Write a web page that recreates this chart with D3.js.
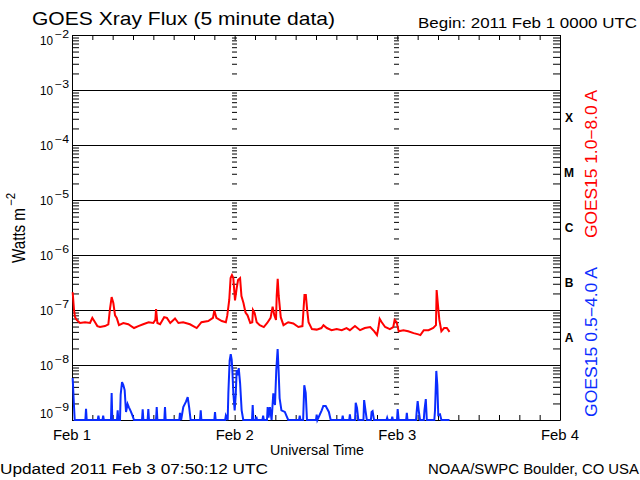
<!DOCTYPE html>
<html>
<head>
<meta charset="utf-8">
<script src="https://cdn.jsdelivr.net/npm/d3@7"></script>
<style>
  body { margin: 0; background: #fff; }
  text { font-family: "Liberation Sans", "DejaVu Sans", sans-serif; fill: #000; }
</style>
</head>
<body>
<div id="chart"></div>
<script>
const width = 640;
const height = 480;

// hours since 2011 Feb 1 00:00 UTC, flux in W m^-2
const redHours = [0.1,0.3,0.44,0.69,1.18,1.92,2.66,3.0,3.4,3.74,4.13,4.87,5.36,5.6,5.85,6.1,6.35,6.6,6.93,7.57,8.3,9.15,9.79,10.5,11.3,12.0,12.3,12.4,12.6,13.0,13.6,14.0,14.5,15.2,15.7,16.4,17.4,18.4,19.1,20.1,20.8,21.0,21.3,22.1,22.7,22.9,23.2,23.4,23.6,23.8,24.05,24.3,24.5,24.8,25.0,25.3,25.6,25.9,26.3,26.6,26.7,26.95,27.25,27.7,28.3,28.8,29.3,29.6,29.85,30.1,30.2,30.35,30.5,30.8,31.2,31.9,32.65,33.4,34.0,34.3,34.5,34.7,34.9,35.4,36.1,36.8,37.1,37.6,38.3,39.05,39.8,40.5,41.0,41.75,42.5,43.2,44.0,44.6,45.0,45.2,45.4,45.7,46.2,46.9,47.4,47.6,47.9,48.2,48.9,49.6,50.4,51.1,51.4,51.9,52.6,53.3,53.7,53.8,54.0,54.2,54.5,54.9,55.3,55.7];
const redFlux = [2.1e-7,1.0e-7,7.5e-8,6.6e-8,5.8e-8,6.0e-8,5.8e-8,7.2e-8,6.0e-8,5.1e-8,4.9e-8,5.1e-8,5.5e-8,1.04e-7,1.72e-7,1.34e-7,8e-8,7.2e-8,5.3e-8,5.8e-8,5.5e-8,4.7e-8,5.1e-8,5.5e-8,6.0e-8,5.8e-8,6.6e-8,1.04e-7,5.8e-8,5.5e-8,7.4e-8,7.2e-8,5.8e-8,7.0e-8,5.8e-8,6.0e-8,5.5e-8,4.7e-8,6.0e-8,6.3e-8,7.2e-8,9.8e-8,7.2e-8,6.3e-8,6.0e-8,7.8e-8,1.52e-7,3.8e-7,4.3e-7,3.8e-7,1.5e-7,2.5e-7,3.5e-7,3.8e-7,1.8e-7,1.34e-7,9.0e-8,8e-8,5.8e-8,6.0e-8,1.0e-7,8.8e-8,6.0e-8,5.3e-8,4.9e-8,5.8e-8,7.2e-8,1.15e-7,8e-8,6.6e-8,1.8e-7,3.7e-7,1.8e-7,7.4e-8,5.3e-8,6.0e-8,5.7e-8,4.9e-8,5.1e-8,1.87e-7,1.87e-7,1.0e-7,6.0e-8,4.5e-8,4.4e-8,4.7e-8,5.3e-8,4.7e-8,4.3e-8,4.5e-8,4.3e-8,4.7e-8,4.3e-8,5.1e-8,4.3e-8,4.7e-8,4.9e-8,4.1e-8,3.5e-8,4.7e-8,6.9e-8,6.0e-8,4.9e-8,4.5e-8,4.9e-8,6.6e-8,6.0e-8,4.1e-8,4.3e-8,4.1e-8,3.8e-8,3.6e-8,3.5e-8,4.3e-8,4.3e-8,4.7e-8,5.3e-8,2.3e-7,1.2e-7,6.6e-8,4.1e-8,4.7e-8,4.7e-8,4.0e-8];

const blueHours = [0.1,0.25,0.4,1.97,2.07,2.17,3.8,3.9,4.0,4.5,4.6,4.7,5.75,5.85,5.95,6.64,6.74,6.84,7.08,7.18,7.38,7.57,7.77,7.97,8.2,8.4,8.66,8.9,9.15,10.33,10.43,10.53,11.16,11.26,11.36,12.4,12.5,12.6,13.62,13.72,13.82,15.83,15.93,16.1,16.42,16.82,17.07,17.3,17.5,18.89,18.99,19.09,21.0,21.1,21.2,22.6,22.7,22.97,23.07,23.26,23.42,23.56,23.66,23.8,24.0,24.15,24.3,24.45,24.6,24.8,25.03,25.27,26.56,26.66,26.76,27.1,27.2,27.3,28.1,28.2,28.3,28.77,28.87,29.0,29.2,29.45,29.7,29.95,30.14,30.34,30.48,30.63,30.9,31.4,31.9,33.5,33.6,33.7,34.1,34.27,34.48,34.67,36.0,36.1,36.2,36.84,37.08,37.43,37.67,37.9,38.17,39.84,39.94,40.04,40.9,41.0,41.1,41.76,41.86,42.05,42.25,43.0,43.1,43.33,43.5,44.1,44.2,44.35,44.56,46.4,46.5,46.6,47.15,47.25,47.35,47.95,48.05,48.2,49.3,49.4,49.5,50.76,50.86,51.0,51.15,51.35,51.9,52.0,52.2,52.35,53.46,53.56,53.75,53.9,54.04,54.3,54.5,55.7];
const blueFlux = [5.8e-9,2.3e-9,8e-10,8e-10,1.6e-9,8e-10,8e-10,1.2e-9,8e-10,8e-10,1.2e-9,8e-10,8e-10,3.1e-9,8e-10,8e-10,1.5e-9,8e-10,8e-10,2.9e-9,4.9e-9,4.3e-9,3.5e-9,1.4e-9,1.95e-9,1.7e-9,1.45e-9,1.23e-9,8e-10,8e-10,1.56e-9,8e-10,8e-10,1.58e-9,8e-10,8e-10,1.72e-9,8e-10,8e-10,1.72e-9,8e-10,8e-10,1.35e-9,8e-10,1.72e-9,2.15e-9,2.6e-9,1.65e-9,8e-10,8e-10,1.5e-9,8e-10,8e-10,1.4e-9,8e-10,8e-10,1.2e-9,8e-10,3.1e-9,1.2e-8,1.58e-8,1.25e-8,8.1e-9,3.1e-9,1.5e-9,2.8e-9,8.1e-9,6.5e-9,8.8e-9,4.7e-9,1.5e-9,8e-10,8e-10,1.87e-9,8e-10,8e-10,1.15e-9,8e-10,8e-10,1.2e-9,8e-10,8e-10,1.72e-9,1.1e-9,1.72e-9,8e-10,3.06e-9,1.87e-9,8.1e-9,1.95e-8,8e-9,2.5e-9,1.5e-9,1.4e-9,8e-10,8e-10,1.2e-9,8e-10,8e-10,4.3e-9,3.1e-9,8e-10,8e-10,1.25e-9,8e-10,1.5e-9,1.8e-9,1.8e-9,1.58e-9,1.4e-9,8e-10,8e-10,1.2e-9,8e-10,8e-10,1.27e-9,8e-10,8e-10,2.06e-9,1.65e-9,8e-10,8e-10,2.3e-9,1.4e-9,8e-10,8e-10,1.4e-9,1.45e-9,8e-10,8e-10,1.1e-9,8e-10,8e-10,1.15e-9,8e-10,8e-10,1.58e-9,8e-10,8e-10,1.35e-9,8e-10,8e-10,1.45e-9,2.2e-9,1.5e-9,8e-10,8e-10,1.5e-9,2.4e-9,8e-10,8e-10,1.5e-9,7.8e-9,4.3e-9,1.23e-9,1.27e-9,8e-10,8e-10];

const dayLabels = ["Feb 1", "Feb 2", "Feb 3", "Feb 4"];
const dayHours = [0, 24, 48, 72];
const decades = [-9, -8, -7, -6, -5, -4, -3, -2];
const classLabels = ["A", "B", "C", "M", "X"];
const classFlux = [3.16e-8, 3.16e-7, 3.16e-6, 3.16e-5, 3.16e-4];

const svg = d3
  .select("#chart")
  .append("svg")
  .attr("width", width)
  .attr("height", height);

const x = d3.scaleLinear().domain([0, 72]).range([72, 560]);
const y = d3.scaleLog().domain([1e-9, 1e-2]).range([420, 35]).clamp(true);

// log minor ticks 1..9 in each decade
const minorTicks = [];
decades.slice(0, -1).forEach((e) => {
  for (let m = 1; m <= 9; m++) minorTicks.push(+(m + "e" + e));
});
minorTicks.push(1e-2);

// horizontal decade lines
svg
  .append("g")
  .selectAll("line")
  .data(decades.slice(1, -1))
  .enter()
  .append("line")
  .attr("x1", 72)
  .attr("x2", 560)
  .attr("y1", (d) => Math.round(y(Math.pow(10, d))) + 0.5)
  .attr("y2", (d) => Math.round(y(Math.pow(10, d))) + 0.5)
  .attr("stroke", "#000");

// frame axes, ticks pointing inward
svg.append("g").attr("transform", "translate(72,0)")
  .call(d3.axisRight(y).tickValues(minorTicks).tickSize(7).tickSizeOuter(0).tickFormat(""));
svg.append("g").attr("transform", "translate(560,0)")
  .call(d3.axisLeft(y).tickValues(minorTicks).tickSize(7).tickSizeOuter(0).tickFormat(""));
svg.append("g").attr("transform", "translate(0,35)")
  .call(d3.axisBottom(x).tickValues(d3.range(0, 73, 3)).tickSize(5).tickSizeOuter(0).tickFormat(""));
svg.append("g").attr("transform", "translate(0,420)")
  .call(d3.axisTop(x).tickValues(d3.range(0, 73, 3)).tickSize(5).tickSizeOuter(0).tickFormat(""));

// day boundary tick columns
[24, 48].forEach((h) => {
  const g = svg.append("g").attr("transform", `translate(${Math.round(x(h)) - 3},0)`)
    .call(d3.axisRight(y).tickValues(minorTicks).tickSize(5).tickSizeOuter(0).tickFormat(""));
  g.select(".domain").remove();
});

svg.selectAll(".domain, .tick line").attr("stroke", "#000");

// data lines
const line = d3.line().x((d) => x(d[0])).y((d) => y(d[1]));

svg.append("path")
  .datum(blueHours.map((h, i) => [h, blueFlux[i]]))
  .attr("d", line)
  .attr("fill", "none")
  .attr("stroke", "#0a2cff")
  .attr("stroke-width", 2);

svg.append("path")
  .datum(redHours.map((h, i) => [h, redFlux[i]]))
  .attr("d", line)
  .attr("fill", "none")
  .attr("stroke", "#ff0000")
  .attr("stroke-width", 2);

// y tick labels
decades.forEach((e, i) => {
  let cy = y(Math.pow(10, e));
  if (i === decades.length - 1) cy += 5;
  if (i === 0) cy -= 7;
  svg.append("text").attr("x", 40).attr("y", cy + 5)
    .attr("font-size", 13).attr("textLength", 13).attr("lengthAdjust", "spacingAndGlyphs")
    .text("10");
  svg.append("text").attr("x", 55).attr("y", cy - 2)
    .attr("font-size", 10).attr("textLength", 14).attr("lengthAdjust", "spacingAndGlyphs")
    .text("\u2212" + Math.abs(e));
});

// flare classes
svg.append("g").selectAll("text")
  .data(classLabels)
  .enter()
  .append("text")
  .attr("x", 569)
  .attr("y", (d, i) => y(classFlux[i]) + 4)
  .attr("text-anchor", "middle")
  .attr("font-family", "'Liberation Serif', serif")
  .attr("font-weight", "bold")
  .attr("font-size", 12)
  .text((d) => d);

// x labels
svg.append("g").selectAll("text")
  .data(dayLabels)
  .enter()
  .append("text")
  .attr("x", (d, i) => x(dayHours[i]))
  .attr("y", 440)
  .attr("text-anchor", "middle")
  .attr("font-size", 14)
  .attr("textLength", 38)
  .attr("lengthAdjust", "spacingAndGlyphs")
  .text((d) => d);

const label = (t, xx, yy, size, len, opts = {}) => {
  const s = svg.append("text").attr("x", xx).attr("y", yy)
    .attr("font-size", size).attr("textLength", len)
    .attr("lengthAdjust", "spacingAndGlyphs").text(t);
  if (opts.anchor) s.attr("text-anchor", opts.anchor);
  if (opts.fill) s.style("fill", opts.fill);
  if (opts.rotate) s.attr("transform", `rotate(-90,${xx},${yy})`);
  return s;
};

label("GOES Xray Flux (5 minute data)", 32, 25, 19, 303);
label("Begin:  2011 Feb 1 0000 UTC", 418, 28, 14, 219);
label("Universal Time", 270, 455, 14, 94);
label("Updated 2011 Feb  3 07:50:12 UTC", 0, 474, 14, 268);
label("NOAA/SWPC Boulder, CO USA", 428, 474, 14, 211);

// y title
label("Watts m", 25, 263, 19, 55, { rotate: true });
label("\u22122", 15, 206, 12, 13, { rotate: true });

// series legends
label("GOES15 1.0\u22128.0 A", 597, 238, 16, 148, { rotate: true, fill: "#ff0000" });
label("GOES15 0.5\u22124.0 A", 597, 417, 16, 150, { rotate: true, fill: "#0a2cff" });
</script>
</body>
</html>
